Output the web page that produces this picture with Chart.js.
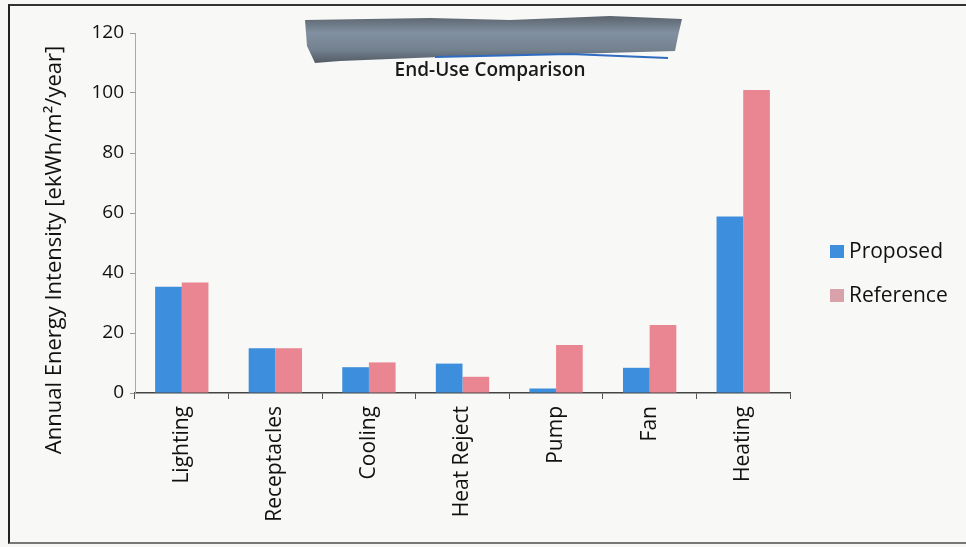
<!DOCTYPE html>
<html>
<head>
<meta charset="utf-8">
<script src="https://cdn.jsdelivr.net/npm/chart.js@4.4.1/dist/chart.umd.min.js"></script>
<style>
  html, body { margin: 0; padding: 0; background: #f7f7f5; }
  #wrap { position: absolute; left: 8px; top: 4px; width: 958px; height: 540px;
          border-left: 2px solid #222; border-top: 2px solid #333; border-bottom: 2px solid #777;
          box-sizing: border-box; background: #f8f8f6; }
  canvas { display: block; }
</style>
</head>
<body>
<div id="wrap"><canvas id="c" width="956" height="536"></canvas></div>
<script>
// End-use categories and annual energy intensity values (ekWh/m²/year)
const categories = ['Lighting', 'Receptacles', 'Cooling', 'Heat Reject', 'Pump', 'Fan', 'Heating'];
const proposed   = [35.4, 14.9, 8.6, 9.8, 1.5, 8.4, 58.8];
const reference  = [36.8, 14.9, 10.2, 5.4, 16.0, 22.7, 101.0];
const yTicks     = [0, 20, 40, 60, 80, 100, 120];
const chartTitle = 'End-Use Comparison';
const yTitle     = 'Annual Energy Intensity [ekWh/m\u00b2/year]';

const FONT = "'Open Sans', 'Liberation Sans', sans-serif";
const BLUE = '#3d8edc';
const PINK = '#ea8692';
const LEGEND_PINK = '#d9a2ab';

// Title drawn inside the plot area, partly covered by a dark smudge band
const titlePlugin = {
  id: 'innerTitle',
  afterDraw(chart) {
    const ctx = chart.ctx;
    ctx.save();
    ctx.fillStyle = '#1a1a1a';
    ctx.font = "600 19px " + FONT;
    ctx.textAlign = 'center';
    ctx.textBaseline = 'alphabetic';
    ctx.fillText(chartTitle, 480, 70);
    // smudge band
    const g = ctx.createLinearGradient(0, 10, 0, 58);
    g.addColorStop(0, '#5a636d');
    g.addColorStop(0.35, '#8190a0');
    g.addColorStop(0.7, '#74818f');
    g.addColorStop(1, '#4f5862');
    ctx.fillStyle = g;
    ctx.beginPath();
    ctx.moveTo(295, 14);
    ctx.lineTo(420, 12);
    ctx.lineTo(500, 14);
    ctx.lineTo(600, 10);
    ctx.lineTo(672, 13);
    ctx.lineTo(668, 30);
    ctx.lineTo(665, 45);
    ctx.lineTo(560, 48);
    ctx.lineTo(430, 51);
    ctx.lineTo(330, 55);
    ctx.lineTo(305, 57);
    ctx.lineTo(297, 40);
    ctx.closePath();
    ctx.fill();
    ctx.strokeStyle = '#2f6cc0';
    ctx.lineWidth = 2;
    ctx.beginPath();
    ctx.moveTo(425, 51);
    ctx.lineTo(560, 48);
    ctx.lineTo(658, 52);
    ctx.stroke();
    ctx.restore();
  }
};

// Vertical axis title, centred on the full chart height
const yTitlePlugin = {
  id: 'yTitle',
  afterDraw(chart) {
    const ctx = chart.ctx;
    ctx.save();
    ctx.translate(45, 244);
    ctx.rotate(-Math.PI / 2);
    ctx.font = "22px " + FONT;
    ctx.fillStyle = '#111';
    ctx.textAlign = 'center';
    ctx.textBaseline = 'middle';
    ctx.fillText(yTitle, 0, 0);
    ctx.restore();
  }
};

// Legend to the right of the plot, built from the dataset labels
const sideLegend = {
  id: 'sideLegend',
  afterDraw(chart) {
    const ctx = chart.ctx;
    const swatch = [BLUE, LEGEND_PINK];
    const x = 820, ys = [246, 290];
    ctx.save();
    ctx.font = "21px " + FONT;
    ctx.textBaseline = 'middle';
    ctx.textAlign = 'left';
    chart.data.datasets.forEach((d, i) => {
      ctx.fillStyle = swatch[i];
      ctx.fillRect(x, ys[i] - 7, 14, 13);
      ctx.fillStyle = '#111';
      ctx.fillText(d.label, x + 19, ys[i]);
    });
    ctx.restore();
  }
};

new Chart(document.getElementById('c'), {
  type: 'bar',
  data: {
    labels: categories,
    datasets: [
      { label: 'Proposed',  data: proposed,  backgroundColor: BLUE, borderWidth: 0 },
      { label: 'Reference', data: reference, backgroundColor: PINK, borderWidth: 0 }
    ]
  },
  options: {
    responsive: false,
    animation: false,
    layout: { padding: { left: 26, right: 176, top: 27, bottom: 0 } },
    datasets: { bar: { categoryPercentage: 0.57, barPercentage: 1.0 } },
    plugins: {
      title: { display: false },
      tooltip: { enabled: false },
      legend: { display: false }
    },
    scales: {
      x: {
        afterFit(scale) { scale.height = 149; },
        grid: { display: true, drawOnChartArea: false, offset: true, tickLength: 6, color: '#555' },
        border: { display: true, color: '#444', width: 1.5 },
        ticks: {
          minRotation: 90, maxRotation: 90, color: '#111', padding: 7,
          font: { family: FONT, size: 21 }
        }
      },
      y: {
        min: 0, max: 120,
        afterBuildTicks(scale) { scale.ticks = yTicks.map(v => ({ value: v })); },
        afterFit(scale) { scale.width = 99; },
        grid: { display: true, drawOnChartArea: false, tickLength: 5, color: '#999' },
        border: { display: true, color: '#aaa', width: 1 },
        title: { display: false },
        ticks: { color: '#111', padding: 6, font: { family: FONT, size: 19 } }
      }
    }
  },
  plugins: [titlePlugin, yTitlePlugin, sideLegend]
});
</script>
</body>
</html>
